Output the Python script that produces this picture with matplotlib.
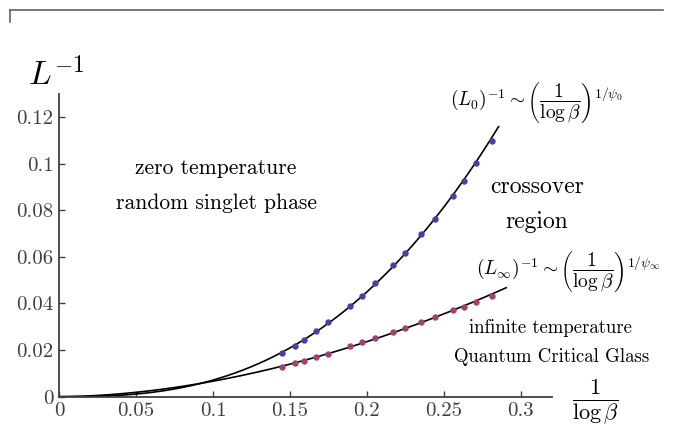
import numpy as np
import matplotlib
matplotlib.use('Agg')
import matplotlib.pyplot as plt
from matplotlib.lines import Line2D

plt.rcParams['font.family'] = 'serif'
plt.rcParams['font.serif'] = ['cmr10']
plt.rcParams['mathtext.fontset'] = 'cm'
plt.rcParams['axes.formatter.use_mathtext'] = True

# -- data --
inv_log_beta = [0.145, 0.153, 0.159, 0.167, 0.175, 0.189, 0.197, 0.205,
                0.217, 0.225, 0.235, 0.244, 0.256, 0.263, 0.271, 0.281]
inv_L_zero = [0.0188, 0.0219, 0.0242, 0.0280, 0.0319, 0.0389, 0.0434, 0.0487,
              0.0564, 0.0618, 0.0697, 0.0764, 0.0862, 0.0924, 0.1001, 0.1096]
inv_L_inf = [0.0128, 0.0144, 0.0154, 0.0169, 0.0185, 0.0216, 0.0234, 0.0253,
             0.0279, 0.0296, 0.0321, 0.0340, 0.0370, 0.0384, 0.0407, 0.0430]
fit_end_zero = 0.2855
fit_end_inf = 0.2905

xticks = [0, 0.05, 0.1, 0.15, 0.2, 0.25, 0.3]
xtick_labels = ['0', '0.05', '0.1', '0.15', '0.2', '0.25', '0.3']
yticks = [0, 0.02, 0.04, 0.06, 0.08, 0.1, 0.12]
ytick_labels = ['0', '0.02', '0.04', '0.06', '0.08', '0.1', '0.12']

BLUE = '#4343a6'
MAGENTA = '#a2416f'
AXIS_GRAY = '#404040'


def power_fit(x, y, x_end):
    # fit y = a * x**p in log space
    p, log_a = np.polyfit(np.log(x), np.log(y), 1)
    xs = np.linspace(0, x_end, 400)
    return xs, np.exp(log_a) * xs ** p


fig = plt.figure(figsize=(6.76, 4.26), dpi=100)
ax = fig.add_axes([0.0873, 0.0688, 0.7287, 0.7112])

for ys, x_end, color in [(inv_L_zero, fit_end_zero, BLUE), (inv_L_inf, fit_end_inf, MAGENTA)]:
    xs, yfit = power_fit(inv_log_beta, ys, x_end)
    ax.plot(xs, yfit, color='black', lw=1.2, zorder=2)
    ax.plot(inv_log_beta, ys, 'o', color=color, ms=4.6, mec='none', zorder=3)

ax.set_xlim(0, 0.32)
ax.set_ylim(0, 0.13)
ax.set_xticks(xticks)
ax.set_xticklabels(xtick_labels)
ax.set_yticks(yticks)
ax.set_yticklabels(ytick_labels)
ax.tick_params(direction='in', length=4, width=1, colors=AXIS_GRAY,
               labelsize=15, pad=4)
ax.spines[['top', 'right']].set_visible(False)
for s in ['left', 'bottom']:
    ax.spines[s].set_color(AXIS_GRAY)
    ax.spines[s].set_linewidth(1.3)

# axis titles
ax.text(-0.020, 0.1335, r'$L^{-1}$', fontsize=24, ha='left', va='baseline',
        clip_on=False)
ax.text(0.3487, -0.0022, r'$\frac{1}{\log\beta}$', fontsize=23,
        ha='center', va='center', clip_on=False)

# annotations
ax.text(0.102, 0.0982, 'zero temperature', fontsize=15.5, ha='center', va='center')
ax.text(0.102, 0.0832, 'random singlet phase', fontsize=15.5, ha='center', va='center')
ax.text(0.3104, 0.0901, 'crossover', fontsize=17, ha='center', va='center')
ax.text(0.3104, 0.0751, 'region', fontsize=17, ha='center', va='center')
ax.text(0.3195, 0.0296, 'infinite temperature', fontsize=13.5, ha='center', va='center')
ax.text(0.3200, 0.0172, 'Quantum Critical Glass', fontsize=13.5, ha='center', va='center')
ax.text(0.3100, 0.1261,
        r'$(L_0)^{-1} \sim \left(\dfrac{1}{\log\beta}\right)^{1/\psi_0}$',
        fontsize=14, ha='center', va='center', clip_on=False)
ax.text(0.3305, 0.0536,
        r'$(L_\infty)^{-1} \sim \left(\dfrac{1}{\log\beta}\right)^{1/\psi_\infty}$',
        fontsize=14, ha='center', va='center', clip_on=False)

# partial frame line along the top of the picture
fig.add_artist(Line2D([10 / 676, 663 / 676], [416 / 426, 416 / 426],
                      color='#606060', lw=1.2, transform=fig.transFigure))
fig.add_artist(Line2D([10 / 676, 10 / 676], [416 / 426, 404 / 426],
                      color='#606060', lw=1.2, transform=fig.transFigure))

fig.savefig('out.png', dpi=100)
